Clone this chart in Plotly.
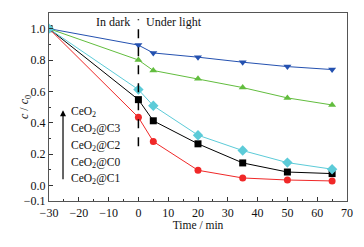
import plotly.graph_objects as go

time = [-30, 0, 5, 20, 35, 50, 65]
ceo2 = [1.0, 0.895, 0.845, 0.818, 0.786, 0.758, 0.739]
ceo2_c3 = [1.0, 0.80, 0.733, 0.68, 0.624, 0.558, 0.513]
ceo2_c2 = [1.0, 0.611, 0.508, 0.32, 0.222, 0.145, 0.103]
ceo2_c0 = [1.0, 0.547, 0.412, 0.265, 0.143, 0.085, 0.075]
ceo2_c1 = [1.0, 0.434, 0.28, 0.096, 0.047, 0.034, 0.028]

series = [
    ("CeO<sub>2</sub>", ceo2, "#2451b0", "triangle-down"),
    ("CeO<sub>2</sub>@C3", ceo2_c3, "#62bd3e", "triangle-up"),
    ("CeO<sub>2</sub>@C0", ceo2_c0, "#000000", "square"),
    ("CeO<sub>2</sub>@C1", ceo2_c1, "#f02828", "circle"),
    ("CeO<sub>2</sub>@C2", ceo2_c2, "#5ccbd8", "diamond"),
]
legend_order = ["CeO<sub>2</sub>", "CeO<sub>2</sub>@C3", "CeO<sub>2</sub>@C2",
                "CeO<sub>2</sub>@C0", "CeO<sub>2</sub>@C1"]
legend_y = [0.465, 0.36, 0.252, 0.145, 0.04]

yticks = [-0.1, 0.0, 0.2, 0.4, 0.6, 0.8, 1.0, 1.1]
yticktext = ["\u22120.1", "0.0", "0.2", "0.4", "0.6", "0.8", "1.0", "1.1"]
xticks = [-30, -20, -10, 0, 10, 20, 30, 40, 50, 60, 70]
xticktext = ["\u221230", "\u221220", "\u221210", "0", "10", "20", "30", "40", "50", "60", "70"]

fig = go.Figure()
for name, vals, color, sym in series:
    fig.add_trace(go.Scatter(
        x=time, y=vals, mode="lines+markers", name=name,
        line=dict(color=color, width=1),
        marker=dict(symbol=sym, size=7 if sym != "diamond" else 8, color=color),
        showlegend=False,
    ))

font = "Liberation Serif, Times New Roman, serif"
# dashed separator
fig.add_shape(type="line", x0=0, x1=0, y0=0.25, y1=1.06, xref="x", yref="y",
              line=dict(color="black", width=1.5, dash="dash"))
fig.add_annotation(x=-2.2, y=1.04, xref="x", yref="y", text="In dark", showarrow=False,
                   xanchor="right", font=dict(family=font, size=12, color="#111"))
fig.add_annotation(x=1.9, y=1.04, xref="x", yref="y", text="Under light", showarrow=False,
                   xanchor="left", font=dict(family=font, size=12, color="#111"))
# legend arrow
fig.add_annotation(x=-25.3, y=0.48, ax=-25.3, ay=0.03, xref="x", yref="y",
                   axref="x", ayref="y", text="", showarrow=True,
                   arrowhead=2, arrowsize=1, arrowwidth=1.2, arrowcolor="black")
for name, yy in zip(legend_order, legend_y):
    fig.add_annotation(x=-23.2, y=yy, xref="x", yref="y", text=name, showarrow=False,
                       xanchor="left", yanchor="middle",
                       font=dict(family=font, size=11.5, color="#111"))
# y axis title
fig.add_annotation(x=-24 / 298, y=0.5, xref="paper", yref="paper",
                   xanchor="center", yanchor="middle",
                   text="<i>c</i> / <i>c</i><sub>0</sub>", showarrow=False, textangle=-90,
                   font=dict(family=font, size=12, color="#111"))

axis_common = dict(
    showgrid=False, zeroline=False, showline=True, linecolor="#555", linewidth=1.2,
    mirror=True, ticks="inside", ticklen=4, tickcolor="#333", automargin=False,
    tickfont=dict(family=font, size=12, color="#111"),
)
fig.update_xaxes(range=[-30, 70], tickvals=xticks, ticktext=xticktext,
                 minor=dict(ticks="inside", ticklen=2, dtick=5, tickcolor="#333"),
                 title=dict(text="Time / min", font=dict(family=font, size=11.5, color="#111"), standoff=2),
                 **axis_common)
fig.update_yaxes(range=[-0.1, 1.1], tickvals=yticks, ticktext=yticktext,
                 minor=dict(ticks="inside", ticklen=2, tickvals=[0.1, 0.3, 0.5, 0.7, 0.9], tickcolor="#333"),
                 **axis_common)
# page body has an 8px margin, so the figure is offset by 8px
fig.update_layout(
    width=356, height=239, margin=dict(l=41, r=17, t=5, b=46),
    plot_bgcolor="white", paper_bgcolor="white",
)
fig.write_html("out.html")
